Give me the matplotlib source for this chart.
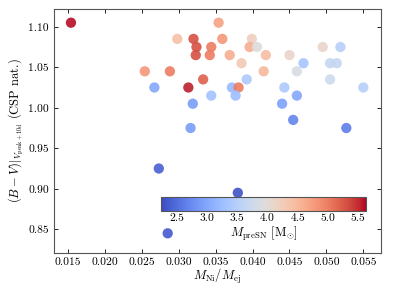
import matplotlib
matplotlib.use("Agg")
import matplotlib.pyplot as plt
import numpy as np

plt.rcParams['font.family'] = 'serif'
plt.rcParams['font.serif'] = ['cmr10']
plt.rcParams['mathtext.fontset'] = 'cm'
plt.rcParams['axes.formatter.use_mathtext'] = True
plt.rcParams['font.size'] = 8.3

# Ni mass fraction, colour and progenitor mass
ni_frac = [0.0154, 0.0254, 0.0267, 0.0354, 0.0298, 0.0320, 0.0359, 0.0399,
           0.0324, 0.0344, 0.0396, 0.0406, 0.0323, 0.0342, 0.0369, 0.0418,
           0.0385, 0.0288, 0.0415, 0.0333, 0.0392, 0.0313, 0.0372, 0.0381,
           0.0344, 0.0377, 0.0319, 0.0316, 0.0450, 0.0495, 0.0519, 0.0469,
           0.0505, 0.0514, 0.0460, 0.0505, 0.0443, 0.0550, 0.0460, 0.0440,
           0.0455, 0.0527, 0.0273, 0.0380, 0.0285]
bv_color = [1.105, 1.045, 1.025, 1.105, 1.085, 1.085, 1.085, 1.085,
            1.075, 1.075, 1.075, 1.075, 1.065, 1.065, 1.065, 1.065,
            1.055, 1.045, 1.045, 1.035, 1.035, 1.025, 1.025, 1.025,
            1.015, 1.015, 1.005, 0.975, 1.065, 1.075, 1.075, 1.055,
            1.055, 1.055, 1.045, 1.035, 1.025, 1.025, 1.015, 1.005,
            0.985, 0.975, 0.925, 0.895, 0.845]
m_presn = [5.6, 4.8, 3.0, 4.7, 4.4, 5.3, 4.8, 4.2,
           5.3, 5.0, 4.6, 3.95, 5.3, 5.0, 4.6, 4.45,
           4.3, 5.0, 4.5, 5.2, 3.4, 5.55, 3.2, 5.0,
           3.3, 3.25, 2.9, 2.9, 4.1, 4.1, 3.5, 3.35,
           3.65, 3.65, 3.85, 3.75, 3.4, 3.5, 3.0, 2.95,
           2.7, 2.65, 2.4, 2.3, 2.35]

fig = plt.figure(figsize=(3.99, 2.88), dpi=100)
ax = fig.add_axes([0.1353, 0.1215, 0.8197, 0.8475])

sc = ax.scatter(ni_frac, bv_color, c=m_presn, cmap='coolwarm', s=55,
                vmin=2.24, vmax=5.63, alpha=0.9, edgecolors='none')

ax.set_xlim(0.0131, 0.0574)
ax.set_ylim(0.8207, 1.122)
ax.set_xticks([0.015, 0.020, 0.025, 0.030, 0.035, 0.040, 0.045, 0.050, 0.055])
ax.set_yticks([0.85, 0.90, 0.95, 1.00, 1.05, 1.10])
ax.set_xticklabels(['0.015', '0.020', '0.025', '0.030', '0.035', '0.040',
                    '0.045', '0.050', '0.055'])
ax.set_yticklabels(['0.85', '0.90', '0.95', '1.00', '1.05', '1.10'])
ax.tick_params(direction='in', top=True, right=True, length=3, width=0.6)
for sp in ax.spines.values():
    sp.set_color('#555555')

ax.set_xlabel(r'$M_{\rm Ni}/M_{\rm ej}$', labelpad=0, fontsize=9)
ax.set_ylabel(r'$(B-V)|_{V_{\rm peak+10d}}$ (CSP nat.)', labelpad=2,
              fontsize=9)

cax = fig.add_axes([0.4035, 0.267, 0.5138, 0.0486])
cb = fig.colorbar(sc, cax=cax, orientation='horizontal')
cb.solids.set_alpha(1)
cb.set_ticks([2.5, 3.0, 3.5, 4.0, 4.5, 5.0, 5.5])
cb.set_ticklabels(['2.5', '3.0', '3.5', '4.0', '4.5', '5.0', '5.5'])
cax.tick_params(length=0, pad=2)
cb.outline.set_edgecolor('#555555')
cb.set_label(r'$M_{\rm preSN}$ [M$_{\odot}$]', labelpad=1, fontsize=9)

fig.savefig('out.png', dpi=100)
